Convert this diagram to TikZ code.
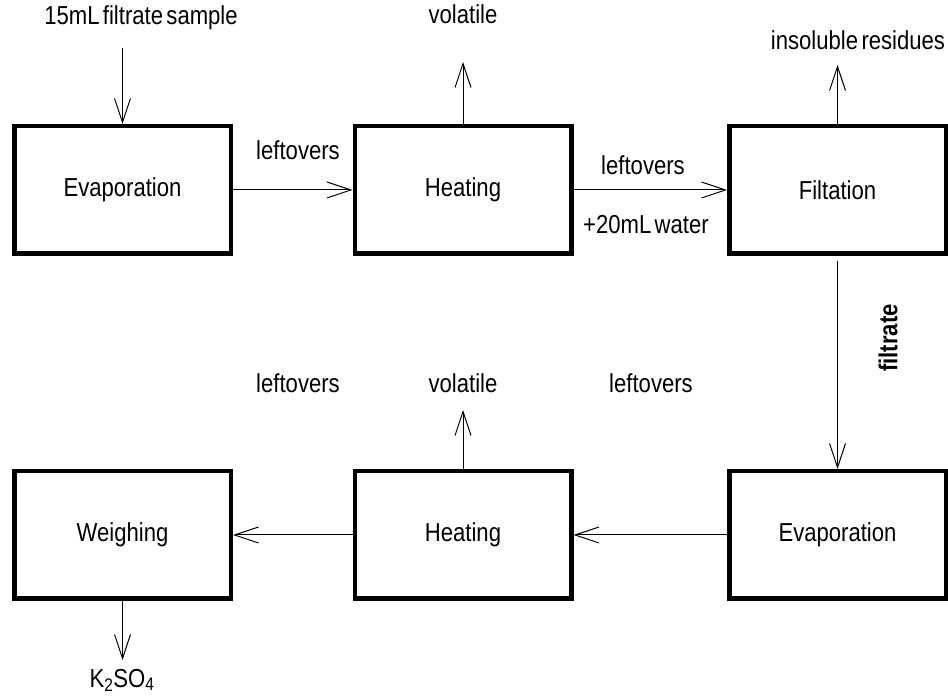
\documentclass[tikz,border=0pt]{standalone}
\usepackage{fontspec}
\setmainfont{Liberation Sans}[FakeStretch=0.85,WordSpace=0.55]
\usetikzlibrary{arrows.meta}
\begin{document}
\begin{tikzpicture}[x=1pt,y=1pt,line join=miter,font=\fontsize{26}{29}\selectfont,
    stage/.style={draw,line width=4.5pt,minimum width=216.5pt,minimum height=127.5pt,inner sep=0pt},
    flow/.style={line width=1pt,-{Straight Barb[length=24pt,width=16pt,line width=1pt]}},
    lbl/.style={inner sep=0pt}]

  \useasboundingbox (0,0) rectangle (948,696);

  % ---- riga superiore ------------------------------------------------------
  \node[stage] (evapA) at (122.5,506) {Evaporation};
  \node[stage] (heatA) at (463,506)   {Heating};
  \node[stage] (filt)  at (837.5,506) {Filtation};

  % ---- riga inferiore ------------------------------------------------------
  \node[stage] (weigh) at (122.5,161) {Weighing};
  \node[stage] (heatB) at (463,161)   {Heating};
  \node[stage] (evapB) at (837.5,161) {Evaporation};

  % ---- estremi liberi delle frecce ----------------------------------------
  \coordinate (sampleEnd) at (122.5,648);
  \coordinate (volAEnd)   at (463,634);
  \coordinate (insolEnd)  at (837.5,631);
  \coordinate (volBEnd)   at (463,286);
  \coordinate (prodEnd)   at (122.5,36);

  % ---- testi ---------------------------------------------------------------
  \node[lbl] (sample) at (141,678) {15mL filtrate sample};
  \node[lbl] (volA)   at (463,682) {volatile};
  \node[lbl] (insol)  at (858,656) {insoluble residues};
  \node[lbl] (leftA)  at (298,546) {leftovers};
  \node[lbl] (leftB)  at (643,531) {leftovers};
  \node[lbl] (water)  at (646,471) {+20mL water};
  \node[lbl,rotate=90,font=\fontsize{26}{29}\selectfont\bfseries] (filtr) at (888,358) {filtrate};
  \node[lbl] (volB)   at (463,313) {volatile};
  \node[lbl] (leftC)  at (651,313) {leftovers};
  \node[lbl] (leftD)  at (298,313) {leftovers};
  \node[lbl] (prod)   at (122,16)  {K\textsubscript{2}SO\textsubscript{4}};

  % ---- frecce --------------------------------------------------------------
  \draw[flow] (sampleEnd) -- (evapA.north);
  \draw[flow] (evapA.east) -- (heatA.west);
  \draw[flow] (heatA.north) -- (volAEnd);
  \draw[flow] (heatA.east) -- (filt.west);
  \draw[flow] (filt.north) -- (insolEnd);
  \draw[flow,shorten <=5pt] (filt.south) -- (evapB.north);
  \draw[flow] (evapB.west) -- (heatB.east);
  \draw[flow] (heatB.north) -- (volBEnd);
  \draw[flow] (heatB.west) -- (weigh.east);
  \draw[flow] (weigh.south) -- (prodEnd);

\end{tikzpicture}
\end{document}
